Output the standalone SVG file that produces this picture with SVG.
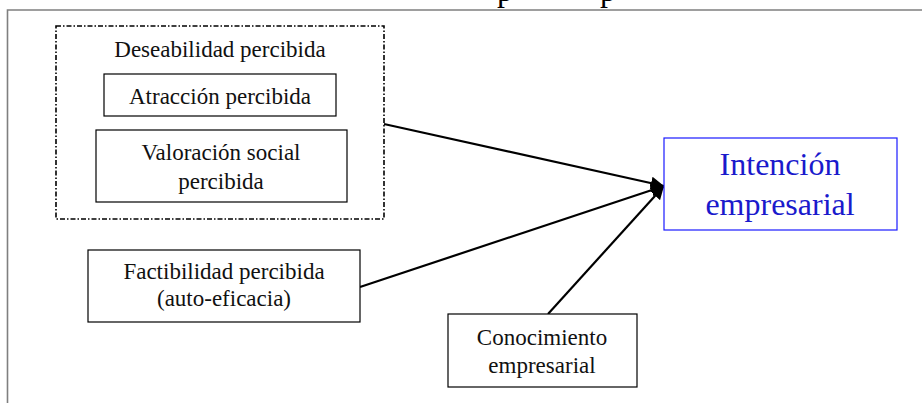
<svg xmlns="http://www.w3.org/2000/svg" width="922" height="403" viewBox="0 0 922 403">
  <style>
    .box { fill: #ffffff; stroke: #000000; stroke-width: 1.2; }
    .group { fill: none; stroke: #000000; stroke-width: 1.6; stroke-dasharray: 5 2 1.5 2; }
    .goal { fill: #ffffff; stroke: #1a1aff; stroke-width: 1.2; }
    .lbl { font-family: "Liberation Serif", "Times New Roman", serif; font-size: 23px; fill: #111111; text-anchor: middle; }
    .goal-lbl { font-family: "Liberation Serif", "Times New Roman", serif; font-size: 32px; fill: #1a1acc; text-anchor: middle; }
    .title { font-family: "Liberation Serif", "Times New Roman", serif; font-size: 32px; fill: #000000; }
    .frame { fill: none; stroke: #7f7f7f; stroke-width: 1.6; }
    .link { fill: none; stroke: #000000; stroke-width: 2.2; marker-end: url(#arrow); }
  </style>
  <defs>
    <marker id="arrow" viewBox="0 0 10 10" refX="10" refY="5" markerWidth="6" markerHeight="6" markerUnits="strokeWidth" orient="auto">
      <path d="M0,0 L10,5 L0,10 z" fill="#000000"/>
    </marker>
  </defs>

  <rect width="922" height="403" fill="#ffffff"/>

  <!-- heading, mostly above the frame -->
  <text class="title" x="497" y="1">p</text>
  <text class="title" x="600" y="1">p</text>

  <!-- outer frame -->
  <path class="frame" d="M7.5,403 V10 H922"/>

  <!-- connectors -->
  <g id="connectors">
    <line class="link" x1="384" y1="124" x2="664" y2="186"/>
    <line class="link" x1="360" y1="287" x2="664" y2="186"/>
    <line class="link" x1="548" y1="314" x2="664" y2="186"/>
  </g>

  <g id="deseabilidad">
    <rect class="group" x="56" y="26" width="328" height="193"/>
    <text class="lbl" x="220" y="57">Deseabilidad percibida</text>
  </g>

  <g id="atraccion">
    <rect class="box" x="104" y="74" width="232" height="42"/>
    <text class="lbl" x="220" y="104">Atracción percibida</text>
  </g>

  <g id="valoracion">
    <rect class="box" x="96" y="130" width="251" height="72"/>
    <text class="lbl" x="221" y="160">Valoración social</text>
    <text class="lbl" x="221" y="189">percibida</text>
  </g>

  <g id="intencion">
    <rect class="goal" x="664" y="138" width="233" height="92"/>
    <text class="goal-lbl" x="780" y="175">Intención</text>
    <text class="goal-lbl" x="780" y="215">empresarial</text>
  </g>

  <g id="factibilidad">
    <rect class="box" x="88" y="250" width="272" height="72"/>
    <text class="lbl" x="224" y="279">Factibilidad percibida</text>
    <text class="lbl" x="224" y="306">(auto-eficacia)</text>
  </g>

  <g id="conocimiento">
    <rect class="box" x="448" y="314" width="189" height="73"/>
    <text class="lbl" x="542" y="345">Conocimiento</text>
    <text class="lbl" x="542" y="373">empresarial</text>
  </g>
</svg>
